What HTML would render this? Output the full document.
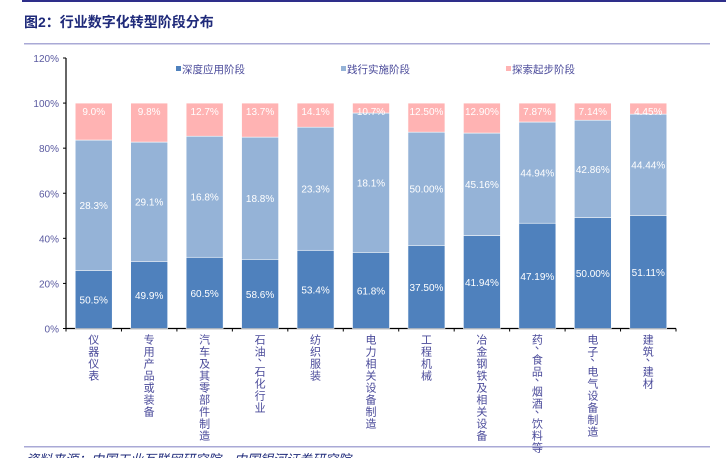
<!DOCTYPE html>
<html><head><meta charset="utf-8"><style>
body{margin:0;background:#fff;width:726px;height:458px;overflow:hidden;font-family:"Liberation Sans","Noto Sans CJK SC",sans-serif}
</style></head><body>
<svg width="726" height="458" xmlns="http://www.w3.org/2000/svg">
<rect x="22" y="0" width="704" height="2" fill="#2e2e8a"/>
<text x="24" y="27" font-size="14" font-weight="bold" fill="#1f2a7a" font-family="Liberation Sans,Noto Sans CJK SC,sans-serif">图2：行业数字化转型阶段分布</text>
<rect x="24" y="43" width="686" height="1.5" fill="#a9a9d6"/>
<g id="plot"></g>
<rect x="24" y="446" width="686" height="1.5" fill="#a9a9d6"/>
<text x="26" y="464" font-size="13" font-style="italic" fill="#1f2a7a">资料来源：中国工业互联网研究院，中国银河证券研究院</text>
</svg>
<script>
const categories=["仪器仪表","专用产品或装备","汽车及其零部件制造","石油、石化行业","纺织服装","电力相关设备制造","工程机械","冶金钢铁及相关设备","药、食品、烟酒、饮料等","电子、电气设备制造","建筑、建材"];
const deepValues=[25.8,29.8,31.6,30.7,34.7,33.8,36.9,41.3,46.7,49.3,50.2];
const practiceValues=[57.8,52.9,53.7,54.2,54.6,61.8,50.2,45.4,44.9,43.1,44.9];
const exploreValues=[16.4,17.3,14.7,15.1,10.7,4.4,12.9,13.3,8.4,7.6,4.9];
const deepLabels=["50.5%","49.9%","60.5%","58.6%","53.4%","61.8%","37.50%","41.94%","47.19%","50.00%","51.11%"];
const practiceLabels=["28.3%","29.1%","16.8%","18.8%","23.3%","18.1%","50.00%","45.16%","44.94%","42.86%","44.44%"];
const exploreLabels=["9.0%","9.8%","12.7%","13.7%","14.1%","10.7%","12.50%","12.90%","7.87%","7.14%","4.45%"];
const yTicks=[0,20,40,60,80,100,120];
const seriesNames=["深度应用阶段","践行实施阶段","探索起步阶段"];
const colors=["#4f81bd","#95b3d7","#ffb3b3"];
const NS="http://www.w3.org/2000/svg";
const g=document.getElementById('plot');
const x0=66,x1=676,y0=328.5,yTop=58;
const y=v=>y0-(v/120)*(y0-yTop);
const step=(x1-x0)/categories.length;
const xc=i=>x0+step*(i+0.5);
const bw=37;
function mk(t,a){const e=document.createElementNS(NS,t);for(const k in a)e.setAttribute(k,a[k]);g.appendChild(e);return e;}
let ax=mk('line',{x1:x0,y1:yTop,x2:x0,y2:y0,stroke:'#000','stroke-width':1.2});


let bx=mk('line',{x1:x0,y1:y0,x2:x1,y2:y0,stroke:'#000','stroke-width':1.2});


yTicks.forEach(v=>{
 const tk=mk('line',{x1:x0-3,x2:x0,y1:y(v),y2:y(v),stroke:'#000'});
 
 
 const t=mk('text',{x:x0-7,y:y(v)+4,'font-size':10,fill:'#5a5aa0','text-anchor':'end'});
 t.textContent=v+'%';
 
 
});
for(let i=0;i<=categories.length;i++){
 const tk=mk('line',{x1:x0+step*i,x2:x0+step*i,y1:y0,y2:y0+3,stroke:'#000'});
 
 
}
categories.forEach((c,i)=>{
 const segs=[[0,deepValues[i],deepLabels[i]],[deepValues[i],deepValues[i]+practiceValues[i],practiceLabels[i]],[deepValues[i]+practiceValues[i],deepValues[i]+practiceValues[i]+exploreValues[i],exploreLabels[i]]];
 segs.forEach((s,k)=>{
  const r=mk('rect',{x:xc(i)-bw/2,y:y(s[1]),width:bw,height:y(s[0])-y(s[1]),fill:colors[k],stroke:'#fff','stroke-width':0.6});
  
  
  const ly=k==2?y(s[1])+12:(y(s[0])+y(s[1]))/2+4;
  const t=mk('text',{x:xc(i),y:ly,'font-size':10,fill:'#fff','text-anchor':'middle'});
  t.textContent=s[2];
  
  
 });
 let cy=y0+15;
 [...c].forEach((ch)=>{
  const isComma=ch==='、';
  const t=mk('text',{x:xc(i)+(isComma?3:0),y:isComma?cy-7:cy,'font-size':11,fill:'#4a4a9a','text-anchor':'middle'});
  t.textContent=ch;
  
  
  cy+=isComma?8:12;
 });
});
const lx=[176,341,506];
seriesNames.forEach((n,k)=>{
 const r=mk('rect',{x:lx[k],y:66,width:5,height:5,fill:colors[k]});
 
 
 const t=mk('text',{x:lx[k]+6,y:73,'font-size':10.5,fill:'#4a4a9a'});
 t.textContent=n;
 
 
});
</script>
</body></html>
